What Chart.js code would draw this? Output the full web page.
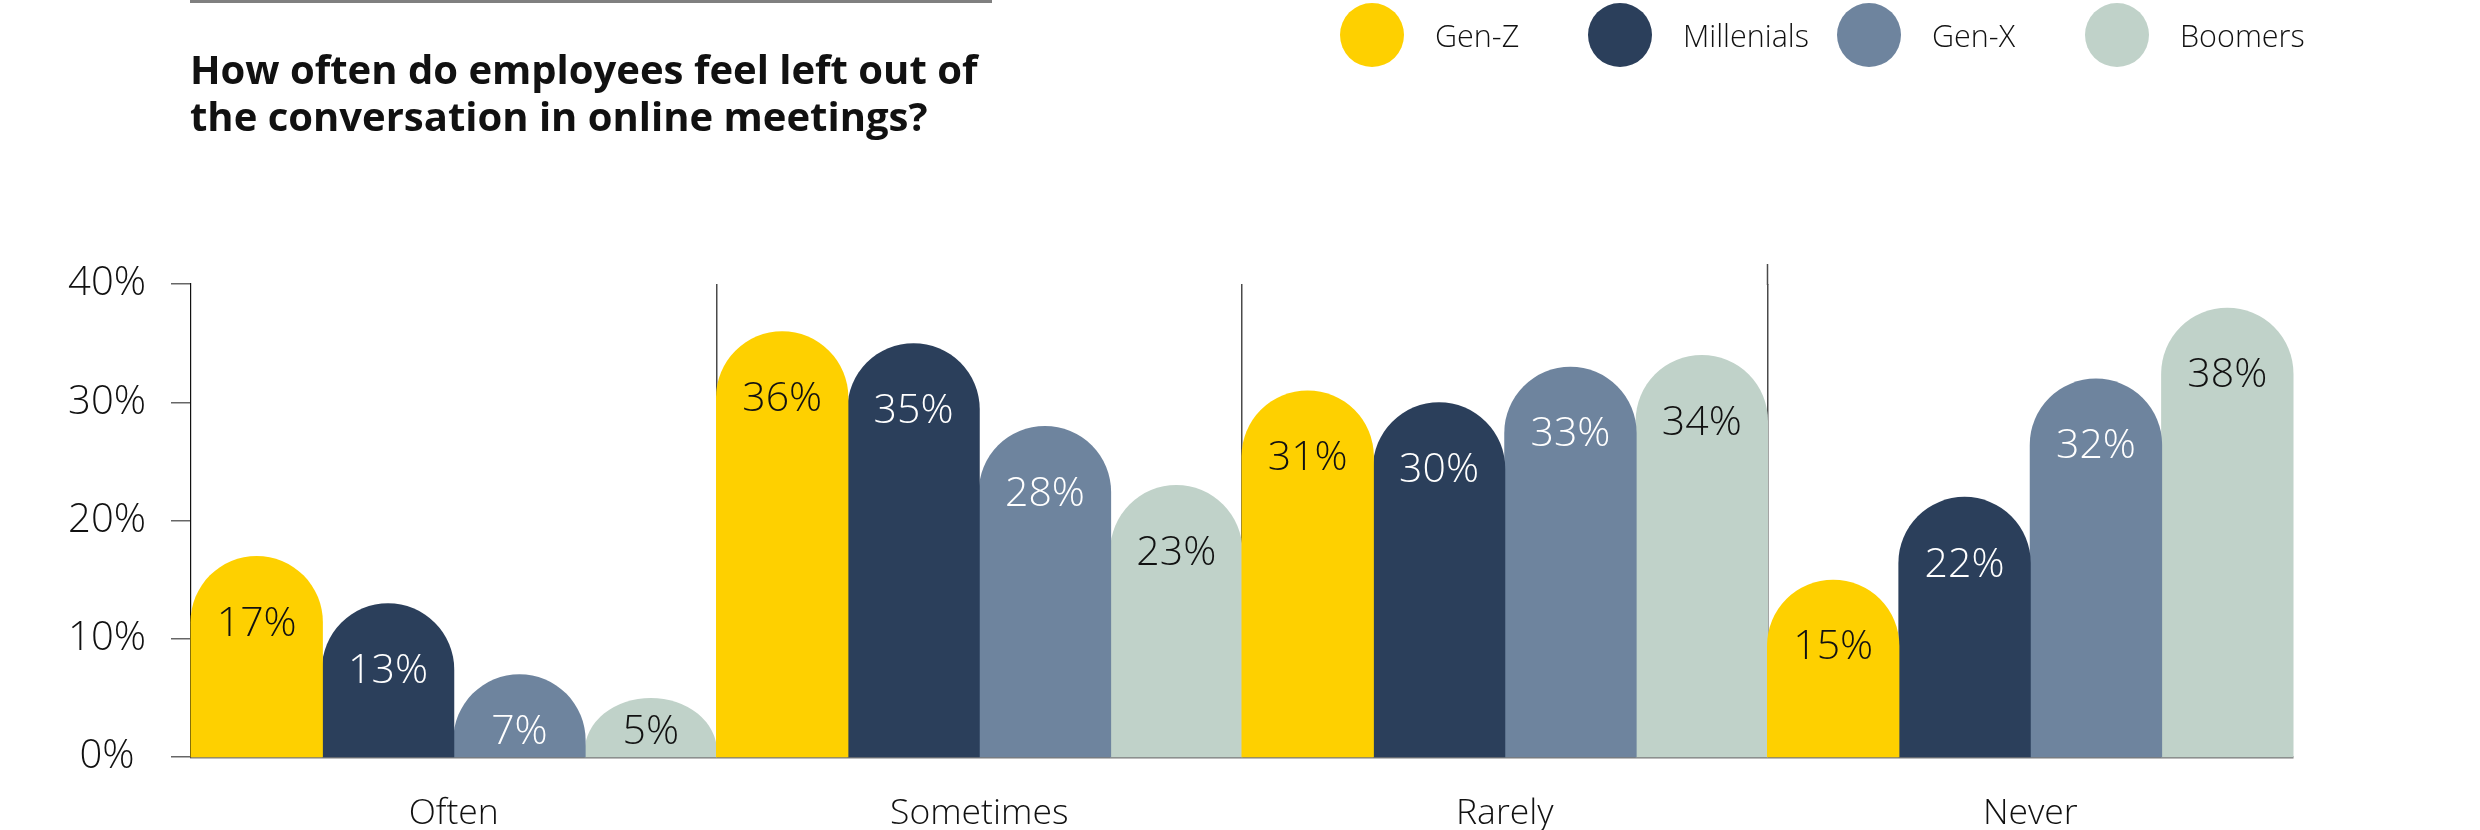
<!DOCTYPE html>
<html>
<head>
<meta charset="utf-8">
<script src="https://cdn.jsdelivr.net/npm/chart.js@4.4.1/dist/chart.umd.min.js"></script>
<style>
  html, body { margin: 0; padding: 0; background: #ffffff; }
  #contenedor { width: 2480px; height: 830px; }
</style>
</head>
<body>
<div id="contenedor"><canvas id="myChart" width="2480" height="830"></canvas></div>
<script>
// Datos del grafico
const categorias = ['Often', 'Sometimes', 'Rarely', 'Never'];
const generaciones = ['Gen-Z', 'Millenials', 'Gen-X', 'Boomers'];
const genZ = [17, 36, 31, 15];
const millenials = [13, 35, 30, 22];
const genX = [7, 28, 33, 32];
const boomers = [5, 23, 34, 38];
const ticksY = [0, 10, 20, 30, 40];

const titulo = ['How often do employees feel left out of', 'the conversation in online meetings?'];

// Estilos
const colores = ['#fed000', '#2b3f5b', '#6e849e', '#c0d2c9'];
const coloresTexto = ['#111111', '#ffffff', '#ffffff', '#111111'];
const fuente = '"Open Sans", "Noto Sans", sans-serif';

// Dibuja las barras con la parte de arriba redondeada (media elipse)
const barrasRedondas = {
    id: 'barrasRedondas',
    beforeDatasetDraw(chart, args) {
        const ctx = chart.ctx;
        const color = chart.data.datasets[args.index].backgroundColor;
        ctx.save();
        ctx.fillStyle = color;
        args.meta.data.forEach(barra => {
            const p = barra.getProps(['x', 'y', 'base', 'width'], true);
            const izq = p.x - p.width / 2 - 0.5;
            const der = p.x + p.width / 2 + 0.5;
            const r = (der - izq) / 2;
            const alto = p.base - p.y;
            const tapa = Math.min(r, alto * 0.92);
            ctx.beginPath();
            ctx.moveTo(izq, p.base + 1);
            ctx.lineTo(izq, p.y + tapa);
            ctx.ellipse(p.x, p.y + tapa, r, tapa, 0, Math.PI, 2 * Math.PI);
            ctx.lineTo(der, p.base + 1);
            ctx.closePath();
            ctx.fill();
        });
        ctx.restore();
        return false;
    }
};

// Etiquetas de porcentaje dentro de las barras
const etiquetas = {
    id: 'etiquetas',
    afterDatasetsDraw(chart) {
        const ctx = chart.ctx;
        ctx.save();
        ctx.font = '300 41px ' + fuente;
        ctx.textAlign = 'center';
        ctx.textBaseline = 'middle';
        chart.data.datasets.forEach((ds, i) => {
            const meta = chart.getDatasetMeta(i);
            ctx.fillStyle = coloresTexto[i];
            meta.data.forEach((barra, j) => {
                const p = barra.getProps(['x', 'y', 'base'], true);
                const y = Math.min(p.y + 68, p.base - 24);
                ctx.fillText(ds.data[j] + '%', p.x, y);
            });
        });
        ctx.restore();
    }
};

// Titulo, linea superior y leyenda con circulos
const cabecera = {
    id: 'cabecera',
    afterDraw(chart) {
        const ctx = chart.ctx;
        const area = chart.chartArea;
        const escalaX = chart.scales.x;
        ctx.save();
        // linea gris arriba
        ctx.fillStyle = '#808080';
        ctx.fillRect(190, 0, 802, 3);

        // la ultima division sube un poco mas
        const xDiv = (escalaX.getPixelForTick(2) + escalaX.getPixelForTick(3)) / 2;
        ctx.strokeStyle = '#4a4a4a';
        ctx.lineWidth = 1.5;
        ctx.beginPath();
        ctx.moveTo(xDiv, area.top - 20);
        ctx.lineTo(xDiv, area.top + 1);
        ctx.stroke();

        // titulo
        ctx.fillStyle = '#111111';
        ctx.font = '700 40px ' + fuente;
        ctx.textAlign = 'left';
        ctx.textBaseline = 'alphabetic';
        ctx.fillText(titulo[0], 190, 84);
        ctx.fillText(titulo[1], 190, 131);

        // leyenda
        const centros = [1372, 1620, 1869, 2117];
        ctx.font = '300 30.5px ' + fuente;
        ctx.textBaseline = 'middle';
        chart.data.datasets.forEach((ds, i) => {
            ctx.fillStyle = ds.backgroundColor;
            ctx.beginPath();
            ctx.arc(centros[i], 35, 32, 0, 2 * Math.PI);
            ctx.fill();
            ctx.fillStyle = '#111111';
            ctx.fillText(ds.label, centros[i] + 63, 38);
        });
        ctx.restore();
    }
};

const series = [genZ, millenials, genX, boomers];
const ctx = document.getElementById('myChart').getContext('2d');
const myChart = new Chart(ctx, {
    type: 'bar',
    data: {
        labels: categorias,
        datasets: series.map((valores, i) => ({
            label: generaciones[i],
            data: valores,
            backgroundColor: colores[i],
            categoryPercentage: 1,
            barPercentage: 1
        }))
    },
    options: {
        responsive: false,
        animation: false,
        devicePixelRatio: 1,
        layout: { padding: { top: 284, right: 187, left: 0, bottom: 0 } },
        plugins: {
            legend: { display: false },
            title: { display: false },
            tooltip: { enabled: false }
        },
        scales: {
            x: {
                afterFit(scale) { scale.height = 73; },
                grid: {
                    offset: true,
                    drawTicks: false,
                    color: c => (c.index > 0 && c.index < categorias.length) ? '#4a4a4a' : 'rgba(0,0,0,0)',
                    lineWidth: 1.5
                },
                border: { color: '#7a7a7a', width: 2.5 },
                ticks: {
                    padding: 36,
                    color: '#111111',
                    font: { family: fuente, size: 35.5, weight: '300' }
                }
            },
            y: {
                min: 0,
                max: 40,
                afterFit(scale) { scale.width = 191; },
                afterBuildTicks(scale) { scale.ticks = ticksY.map(v => ({ value: v })); },
                grid: {
                    drawOnChartArea: false,
                    drawTicks: true,
                    tickLength: 20,
                    color: '#666666',
                    lineWidth: 1.5
                },
                border: { color: '#111111', width: 1.2 },
                ticks: {
                    crossAlign: 'center',
                    padding: 25,
                    color: '#111111',
                    font: { family: fuente, size: 40, weight: '300' },
                    callback: v => v + '%'
                }
            }
        }
    },
    plugins: [barrasRedondas, etiquetas, cabecera]
});
</script>
</body>
</html>
